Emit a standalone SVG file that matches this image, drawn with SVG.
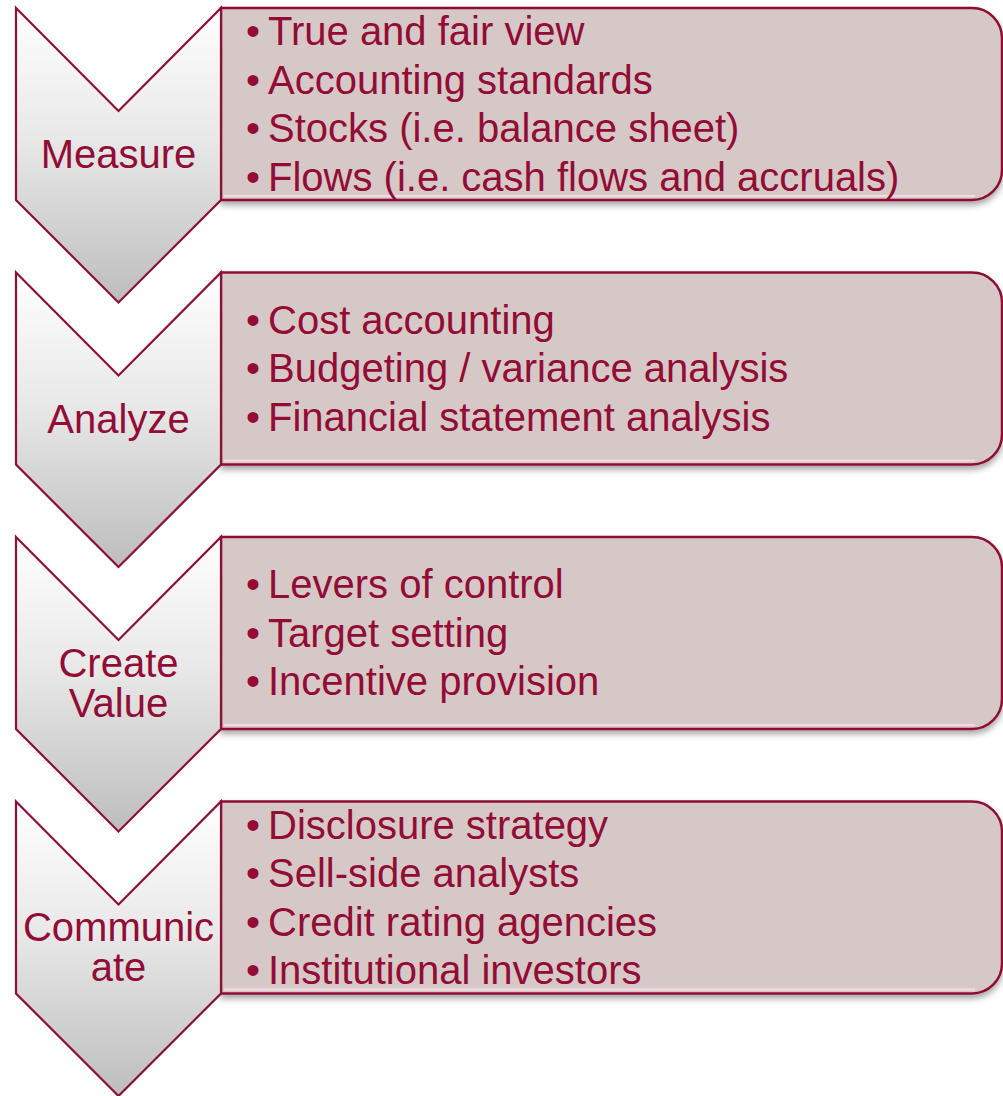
<svg xmlns="http://www.w3.org/2000/svg" width="1003" height="1096" viewBox="0 0 1003 1096">
  <defs>
    <linearGradient id="chevFill" x1="0" y1="0" x2="0" y2="1">
      <stop offset="0" stop-color="#FFFFFF"/>
      <stop offset="0.45" stop-color="#E8E8E8"/>
      <stop offset="1" stop-color="#BDBDBD"/>
    </linearGradient>
    <filter id="shadow" x="-5%" y="-10%" width="110%" height="130%">
      <feDropShadow dx="0" dy="4" stdDeviation="3" flood-color="#000000" flood-opacity="0.35"/>
    </filter>
    <path id="chev" d="M16,0 L118.5,103 L221,0 L221,192 L118.5,294.5 L16,192 Z"/>
    <path id="box" d="M221,0 H972 A30,30 0 0 1 1002,30 V162 A30,30 0 0 1 972,192 H221 Z"/>
  </defs>
  <style>
    .chev { fill: url(#chevFill); stroke: #8E0F35; stroke-width: 2.2; stroke-linejoin: miter; }
    .box { fill: #D7C8C8; stroke: #8E0F35; stroke-width: 2.5; filter: url(#shadow); }
    .hl { fill: none; stroke: #F6D8E6; stroke-width: 2; }
    .lbl { font-family: "Liberation Sans", Arial, sans-serif; font-size: 40px; fill: #920C36; text-anchor: middle; }
    .item { font-family: "Liberation Sans", Arial, sans-serif; font-size: 40px; fill: #920C36; }
  </style>

  <g id="connectors"></g>

  <g id="node-measure" transform="translate(0,8)">
    <use href="#box" class="box"/>
    <path class="hl" d="M224,188 H975"/>
    <use href="#chev" class="chev"/>
    <text class="lbl" x="118.5" y="160">Measure</text>
    <text class="item" y="37"><tspan x="246">•</tspan><tspan x="268">True and fair view</tspan></text>
    <text class="item" y="85.5"><tspan x="246">•</tspan><tspan x="268">Accounting standards</tspan></text>
    <text class="item" y="134"><tspan x="246">•</tspan><tspan x="268">Stocks (i.e. balance sheet)</tspan></text>
    <text class="item" y="182.5"><tspan x="246">•</tspan><tspan x="268">Flows (i.e. cash flows and accruals)</tspan></text>
  </g>

  <g id="node-analyze" transform="translate(0,272.5)">
    <use href="#box" class="box"/>
    <path class="hl" d="M224,188 H975"/>
    <use href="#chev" class="chev"/>
    <text class="lbl" x="118.5" y="160">Analyze</text>
    <text class="item" y="61"><tspan x="246">•</tspan><tspan x="268">Cost accounting</tspan></text>
    <text class="item" y="109.5"><tspan x="246">•</tspan><tspan x="268">Budgeting / variance analysis</tspan></text>
    <text class="item" y="158"><tspan x="246">•</tspan><tspan x="268">Financial statement analysis</tspan></text>
  </g>

  <g id="node-create-value" transform="translate(0,537)">
    <use href="#box" class="box"/>
    <path class="hl" d="M224,188 H975"/>
    <use href="#chev" class="chev"/>
    <text class="lbl" x="118.5" y="140">Create</text>
    <text class="lbl" x="118.5" y="180">Value</text>
    <text class="item" y="61"><tspan x="246">•</tspan><tspan x="268">Levers of control</tspan></text>
    <text class="item" y="109.5"><tspan x="246">•</tspan><tspan x="268">Target setting</tspan></text>
    <text class="item" y="158"><tspan x="246">•</tspan><tspan x="268">Incentive provision</tspan></text>
  </g>

  <g id="node-communicate" transform="translate(0,801.5)">
    <use href="#box" class="box"/>
    <path class="hl" d="M224,188 H975"/>
    <use href="#chev" class="chev"/>
    <text class="lbl" x="118.5" y="139">Communic</text>
    <text class="lbl" x="118.5" y="179">ate</text>
    <text class="item" y="37"><tspan x="246">•</tspan><tspan x="268">Disclosure strategy</tspan></text>
    <text class="item" y="85.5"><tspan x="246">•</tspan><tspan x="268">Sell-side analysts</tspan></text>
    <text class="item" y="134"><tspan x="246">•</tspan><tspan x="268">Credit rating agencies</tspan></text>
    <text class="item" y="182.5"><tspan x="246">•</tspan><tspan x="268">Institutional investors</tspan></text>
  </g>
</svg>
